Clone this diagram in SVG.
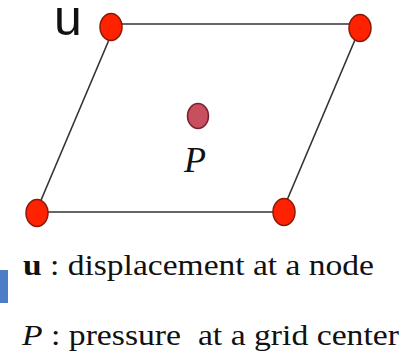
<svg xmlns="http://www.w3.org/2000/svg" width="399" height="357" viewBox="0 0 399 357">
<style>
.edge{stroke:#333;stroke-width:1.6;fill:none}
.node{fill:#ff2200;stroke:#8a1a08;stroke-width:1.5}
.serif{font-family:"Liberation Serif","Times New Roman",serif;fill:#111;white-space:pre}
</style>
<rect width="399" height="357" fill="#fff"/>
<g id="connectors">
<line class="edge" x1="110" y1="24" x2="360" y2="24"/>
<line class="edge" x1="37" y1="212" x2="283" y2="212"/>
<line class="edge" x1="114" y1="28" x2="36" y2="212"/>
<line class="edge" x1="360" y1="28" x2="282" y2="212"/>
</g>
<g id="node-tl"><ellipse class="node" cx="111" cy="27" rx="11" ry="13.5"/></g>
<g id="node-tr"><ellipse class="node" cx="360" cy="28" rx="11" ry="13.5"/></g>
<g id="node-bl"><ellipse class="node" cx="37" cy="213" rx="11" ry="13.5"/></g>
<g id="node-br"><ellipse class="node" cx="284" cy="212" rx="11" ry="13.5"/></g>
<g id="node-center"><ellipse cx="198" cy="116" rx="10.5" ry="12.5" fill="#c8505e" stroke="#7a2030" stroke-width="1.5"/></g>
<text x="54" y="35" font-family="Liberation Sans, Arial, sans-serif" font-size="50" fill="#111">u</text>
<text x="184" y="172" class="serif" font-size="36" font-style="italic">P</text>
<rect x="0" y="270" width="8" height="33" fill="#4f7cc6"/>
<text x="23" y="275" class="serif" font-size="30" textLength="351" lengthAdjust="spacingAndGlyphs"><tspan font-weight="bold">u</tspan> : displacement at a node</text>
<text x="22" y="345" class="serif" font-size="30" textLength="377" lengthAdjust="spacingAndGlyphs" xml:space="preserve"><tspan font-style="italic">P</tspan> : pressure  at a grid center</text>
</svg>
